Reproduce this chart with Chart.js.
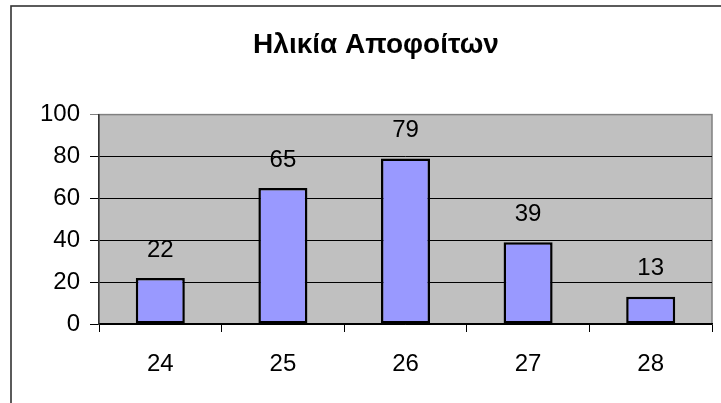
<!DOCTYPE html>
<html>
<head>
<meta charset="utf-8">
<script src="https://cdn.jsdelivr.net/npm/chart.js@4.4.1/dist/chart.umd.min.js"></script>
<style>
  html, body { margin: 0; padding: 0; background: #ffffff; }
  #wrap { width: 721px; height: 403px; }
</style>
</head>
<body>
<div id="wrap"><canvas id="c" width="721" height="403"></canvas></div>
<script>
const chartTitle = "Ηλικία Αποφοίτων";
const categories = ["24", "25", "26", "27", "28"];
const values = [22, 65, 79, 39, 13];
const yMin = 0, yMax = 100, yStep = 20;

const FONT = "'Liberation Sans', Arial, Helvetica, sans-serif";

const decorPlugin = {
  id: 'decor',
  beforeDraw(chart) {
    const ctx = chart.ctx, a = chart.chartArea;
    ctx.save();
    ctx.fillStyle = '#ffffff';
    ctx.fillRect(0, 0, chart.width, chart.height);
    // outer frame
    ctx.strokeStyle = '#333333';
    ctx.lineWidth = 1.6;
    ctx.strokeRect(11, 6, chart.width + 20, chart.height + 20);
    // plot background
    ctx.fillStyle = '#C0C0C0';
    ctx.fillRect(a.left, a.top, a.right - a.left, a.bottom - a.top);
    ctx.strokeStyle = '#808080';
    ctx.lineWidth = 1.5;
    ctx.strokeRect(a.left, a.top, a.right - a.left, a.bottom - a.top);
    ctx.restore();
  },
  afterDatasetsDraw(chart) {
    const ctx = chart.ctx;
    const meta = chart.getDatasetMeta(0);
    ctx.save();
    ctx.font = '24px ' + FONT;
    ctx.fillStyle = '#000000';
    ctx.textAlign = 'center';
    ctx.textBaseline = 'middle';
    meta.data.forEach((bar, i) => {
      ctx.fillText(String(chart.data.datasets[0].data[i]), bar.x, bar.y - 28);
    });
    ctx.restore();
  }
};

new Chart(document.getElementById('c'), {
  type: 'bar',
  data: {
    labels: categories,
    datasets: [{
      data: values,
      backgroundColor: '#9999FF',
      borderColor: '#000000',
      borderWidth: 2.5,
      borderSkipped: false,
      barPercentage: 0.4,
      categoryPercentage: 1.0
    }]
  },
  options: {
    responsive: false,
    animation: false,
    devicePixelRatio: 1,
    layout: { padding: { left: 40, right: 9, top: 0, bottom: 0 } },
    plugins: {
      legend: { display: false },
      tooltip: { enabled: false },
      title: {
        display: true,
        text: chartTitle,
        color: '#000000',
        font: { family: FONT, size: 28, weight: 'bold', lineHeight: 1.2 },
        padding: { top: 28, bottom: 53 }
      }
    },
    scales: {
      x: {
        offset: true,
        afterFit(scale) { scale.height = 79; },
        grid: {
          offset: true,
          drawOnChartArea: false,
          drawTicks: true,
          tickLength: 8,
          color: '#000000',
          lineWidth: 1
        },
        border: { display: true, color: '#000000', width: 1.5 },
        ticks: {
          color: '#000000',
          padding: 18,
          font: { family: FONT, size: 24 }
        }
      },
      y: {
        min: yMin,
        max: yMax,
        afterFit(scale) { scale.width = 59; },
        grid: {
          drawTicks: true,
          tickLength: 9,
          color: (c) => (c.tick && c.tick.value === yMax) ? '#808080' : '#000000',
          lineWidth: 1
        },
        border: { display: true, color: '#333333', width: 1.5 },
        ticks: {
          stepSize: yStep,
          color: '#000000',
          padding: 10,
          font: { family: FONT, size: 24 }
        }
      }
    }
  },
  plugins: [decorPlugin]
});
</script>
</body>
</html>
